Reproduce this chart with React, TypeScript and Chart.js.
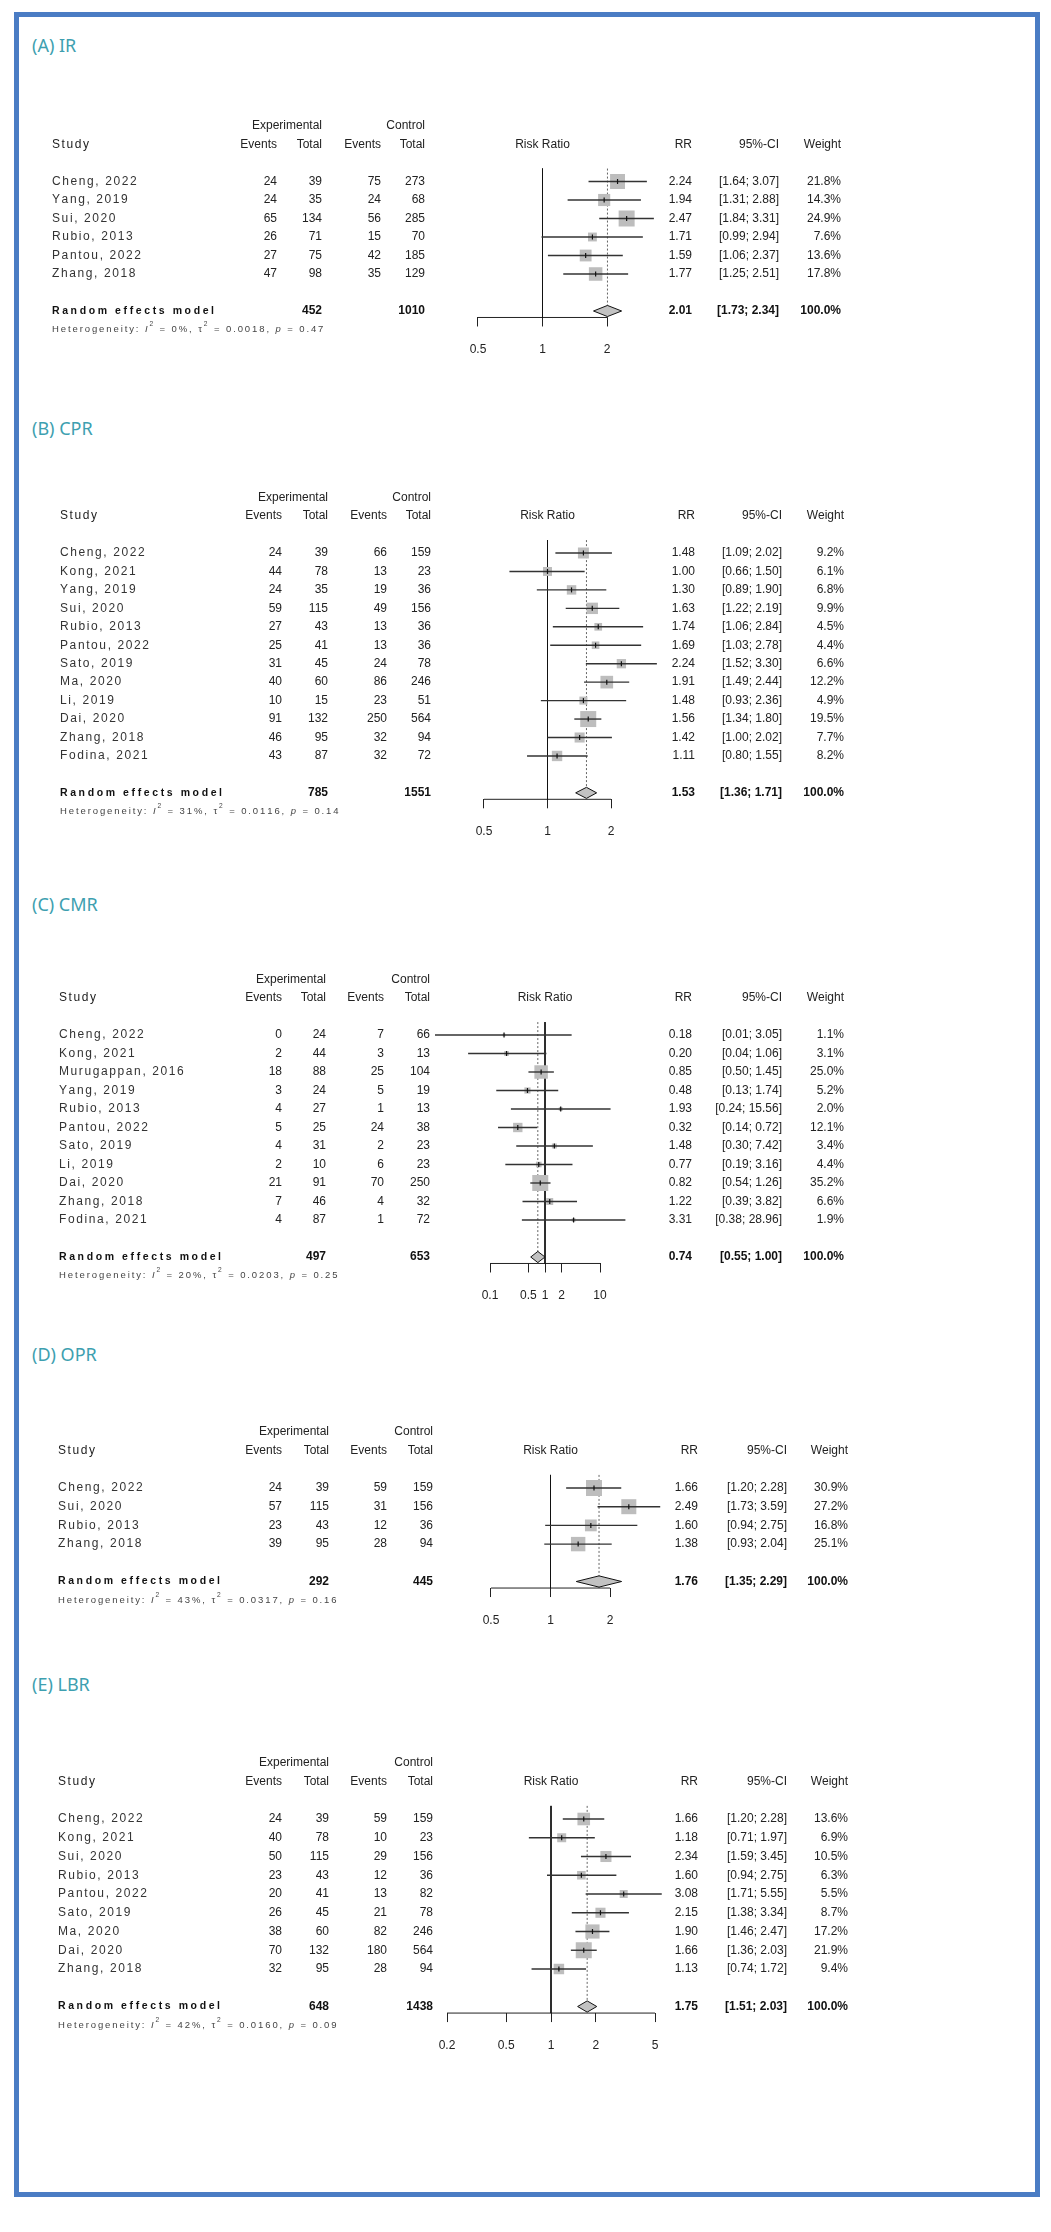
import React, { useEffect, useRef } from "react";
import { Chart, registerables } from "chart.js";

Chart.register(...registerables);

// ---------------- (A) IR ----------------
const irStudies = ["Cheng, 2022", "Yang, 2019", "Sui, 2020", "Rubio, 2013", "Pantou, 2022", "Zhang, 2018"];
const irExpEvents = [24, 24, 65, 26, 27, 47];
const irExpTotal = [39, 35, 134, 71, 75, 98];
const irCtrlEvents = [75, 24, 56, 15, 42, 35];
const irCtrlTotal = [273, 68, 285, 70, 185, 129];
const irRR = [2.24, 1.94, 2.47, 1.71, 1.59, 1.77];
const irLower = [1.64, 1.31, 1.84, 0.99, 1.06, 1.25];
const irUpper = [3.07, 2.88, 3.31, 2.94, 2.37, 2.51];
const irWeight = [21.8, 14.3, 24.9, 7.6, 13.6, 17.8];
const irPooled = [2.01, 1.73, 2.34];
const irTotals = [452, 1010];
const irHeterogeneity = ["0%", "0.0018", "0.47"];
const irTicks = [0.5, 1, 2];
const irTickLabels = ["0.5", "1", "2"];

// ---------------- (B) CPR ----------------
const cprStudies = ["Cheng, 2022", "Kong, 2021", "Yang, 2019", "Sui, 2020", "Rubio, 2013", "Pantou, 2022", "Sato, 2019", "Ma, 2020", "Li, 2019", "Dai, 2020", "Zhang, 2018", "Fodina, 2021"];
const cprExpEvents = [24, 44, 24, 59, 27, 25, 31, 40, 10, 91, 46, 43];
const cprExpTotal = [39, 78, 35, 115, 43, 41, 45, 60, 15, 132, 95, 87];
const cprCtrlEvents = [66, 13, 19, 49, 13, 13, 24, 86, 23, 250, 32, 32];
const cprCtrlTotal = [159, 23, 36, 156, 36, 36, 78, 246, 51, 564, 94, 72];
const cprRR = [1.48, 1.0, 1.3, 1.63, 1.74, 1.69, 2.24, 1.91, 1.48, 1.56, 1.42, 1.11];
const cprLower = [1.09, 0.66, 0.89, 1.22, 1.06, 1.03, 1.52, 1.49, 0.93, 1.34, 1.0, 0.8];
const cprUpper = [2.02, 1.5, 1.9, 2.19, 2.84, 2.78, 3.3, 2.44, 2.36, 1.8, 2.02, 1.55];
const cprWeight = [9.2, 6.1, 6.8, 9.9, 4.5, 4.4, 6.6, 12.2, 4.9, 19.5, 7.7, 8.2];
const cprPooled = [1.53, 1.36, 1.71];
const cprTotals = [785, 1551];
const cprHeterogeneity = ["31%", "0.0116", "0.14"];
const cprTicks = [0.5, 1, 2];
const cprTickLabels = ["0.5", "1", "2"];

// ---------------- (C) CMR ----------------
const cmrStudies = ["Cheng, 2022", "Kong, 2021", "Murugappan, 2016", "Yang, 2019", "Rubio, 2013", "Pantou, 2022", "Sato, 2019", "Li, 2019", "Dai, 2020", "Zhang, 2018", "Fodina, 2021"];
const cmrExpEvents = [0, 2, 18, 3, 4, 5, 4, 2, 21, 7, 4];
const cmrExpTotal = [24, 44, 88, 24, 27, 25, 31, 10, 91, 46, 87];
const cmrCtrlEvents = [7, 3, 25, 5, 1, 24, 2, 6, 70, 4, 1];
const cmrCtrlTotal = [66, 13, 104, 19, 13, 38, 23, 23, 250, 32, 72];
const cmrRR = [0.18, 0.2, 0.85, 0.48, 1.93, 0.32, 1.48, 0.77, 0.82, 1.22, 3.31];
const cmrLower = [0.01, 0.04, 0.5, 0.13, 0.24, 0.14, 0.3, 0.19, 0.54, 0.39, 0.38];
const cmrUpper = [3.05, 1.06, 1.45, 1.74, 15.56, 0.72, 7.42, 3.16, 1.26, 3.82, 28.96];
const cmrWeight = [1.1, 3.1, 25.0, 5.2, 2.0, 12.1, 3.4, 4.4, 35.2, 6.6, 1.9];
const cmrPooled = [0.74, 0.55, 1.0];
const cmrTotals = [497, 653];
const cmrHeterogeneity = ["20%", "0.0203", "0.25"];
const cmrTicks = [0.1, 0.5, 1, 2, 10];
const cmrTickLabels = ["0.1", "0.5", "1", "2", "10"];

// ---------------- (D) OPR ----------------
const oprStudies = ["Cheng, 2022", "Sui, 2020", "Rubio, 2013", "Zhang, 2018"];
const oprExpEvents = [24, 57, 23, 39];
const oprExpTotal = [39, 115, 43, 95];
const oprCtrlEvents = [59, 31, 12, 28];
const oprCtrlTotal = [159, 156, 36, 94];
const oprRR = [1.66, 2.49, 1.6, 1.38];
const oprLower = [1.2, 1.73, 0.94, 0.93];
const oprUpper = [2.28, 3.59, 2.75, 2.04];
const oprWeight = [30.9, 27.2, 16.8, 25.1];
const oprPooled = [1.76, 1.35, 2.29];
const oprTotals = [292, 445];
const oprHeterogeneity = ["43%", "0.0317", "0.16"];
const oprTicks = [0.5, 1, 2];
const oprTickLabels = ["0.5", "1", "2"];

// ---------------- (E) LBR ----------------
const lbrStudies = ["Cheng, 2022", "Kong, 2021", "Sui, 2020", "Rubio, 2013", "Pantou, 2022", "Sato, 2019", "Ma, 2020", "Dai, 2020", "Zhang, 2018"];
const lbrExpEvents = [24, 40, 50, 23, 20, 26, 38, 70, 32];
const lbrExpTotal = [39, 78, 115, 43, 41, 45, 60, 132, 95];
const lbrCtrlEvents = [59, 10, 29, 12, 13, 21, 82, 180, 28];
const lbrCtrlTotal = [159, 23, 156, 36, 82, 78, 246, 564, 94];
const lbrRR = [1.66, 1.18, 2.34, 1.6, 3.08, 2.15, 1.9, 1.66, 1.13];
const lbrLower = [1.2, 0.71, 1.59, 0.94, 1.71, 1.38, 1.46, 1.36, 0.74];
const lbrUpper = [2.28, 1.97, 3.45, 2.75, 5.55, 3.34, 2.47, 2.03, 1.72];
const lbrWeight = [13.6, 6.9, 10.5, 6.3, 5.5, 8.7, 17.2, 21.9, 9.4];
const lbrPooled = [1.75, 1.51, 2.03];
const lbrTotals = [648, 1438];
const lbrHeterogeneity = ["42%", "0.0160", "0.09"];
const lbrTicks = [0.2, 0.5, 1, 2, 5];
const lbrTickLabels = ["0.2", "0.5", "1", "2", "5"];

type PanelSpec = {
  title: string;
  studies: string[];
  expEvents: number[];
  expTotal: number[];
  ctrlEvents: number[];
  ctrlTotal: number[];
  rr: number[];
  lower: number[];
  upper: number[];
  weight: number[];
  pooled: number[];
  totals: number[];
  het: string[];
  ticks: number[];
  tickLabels: string[];
};

type Layout = {
  titleTop: number;
  row0: number;
  rowH: number;
  xMin: number;
  xMax: number;
  study: number;
  expEv: number;
  expTot: number;
  ctlEv: number;
  ctlTot: number;
  rr: number;
  ci: number;
  wt: number;
};

const panels: PanelSpec[] = [
  { title: "(A) IR", studies: irStudies, expEvents: irExpEvents, expTotal: irExpTotal, ctrlEvents: irCtrlEvents, ctrlTotal: irCtrlTotal, rr: irRR, lower: irLower, upper: irUpper, weight: irWeight, pooled: irPooled, totals: irTotals, het: irHeterogeneity, ticks: irTicks, tickLabels: irTickLabels },
  { title: "(B) CPR", studies: cprStudies, expEvents: cprExpEvents, expTotal: cprExpTotal, ctrlEvents: cprCtrlEvents, ctrlTotal: cprCtrlTotal, rr: cprRR, lower: cprLower, upper: cprUpper, weight: cprWeight, pooled: cprPooled, totals: cprTotals, het: cprHeterogeneity, ticks: cprTicks, tickLabels: cprTickLabels },
  { title: "(C) CMR", studies: cmrStudies, expEvents: cmrExpEvents, expTotal: cmrExpTotal, ctrlEvents: cmrCtrlEvents, ctrlTotal: cmrCtrlTotal, rr: cmrRR, lower: cmrLower, upper: cmrUpper, weight: cmrWeight, pooled: cmrPooled, totals: cmrTotals, het: cmrHeterogeneity, ticks: cmrTicks, tickLabels: cmrTickLabels },
  { title: "(D) OPR", studies: oprStudies, expEvents: oprExpEvents, expTotal: oprExpTotal, ctrlEvents: oprCtrlEvents, ctrlTotal: oprCtrlTotal, rr: oprRR, lower: oprLower, upper: oprUpper, weight: oprWeight, pooled: oprPooled, totals: oprTotals, het: oprHeterogeneity, ticks: oprTicks, tickLabels: oprTickLabels },
  { title: "(E) LBR", studies: lbrStudies, expEvents: lbrExpEvents, expTotal: lbrExpTotal, ctrlEvents: lbrCtrlEvents, ctrlTotal: lbrCtrlTotal, rr: lbrRR, lower: lbrLower, upper: lbrUpper, weight: lbrWeight, pooled: lbrPooled, totals: lbrTotals, het: lbrHeterogeneity, ticks: lbrTicks, tickLabels: lbrTickLabels },
];

const layouts: Layout[] = [
  { titleTop: 36, row0: 181.5, rowH: 18.5, xMin: 478, xMax: 607, study: 52, expEv: 277, expTot: 322, ctlEv: 381, ctlTot: 425, rr: 692, ci: 779, wt: 841 },
  { titleTop: 419, row0: 553, rowH: 18.45, xMin: 484, xMax: 611, study: 60, expEv: 282, expTot: 328, ctlEv: 387, ctlTot: 431, rr: 695, ci: 782, wt: 844 },
  { titleTop: 895, row0: 1035, rowH: 18.5, xMin: 490, xMax: 600, study: 59, expEv: 282, expTot: 326, ctlEv: 384, ctlTot: 430, rr: 692, ci: 782, wt: 844 },
  { titleTop: 1345, row0: 1488, rowH: 18.7, xMin: 491, xMax: 610, study: 58, expEv: 282, expTot: 329, ctlEv: 387, ctlTot: 433, rr: 698, ci: 787, wt: 848 },
  { titleTop: 1675, row0: 1819, rowH: 18.75, xMin: 447, xMax: 655, study: 58, expEv: 282, expTot: 329, ctlEv: 387, ctlTot: 433, rr: 698, ci: 787, wt: 848 },
];

const W = 1051;
const FAM = '"Liberation Sans", Arial, Helvetica, sans-serif';
const AXIS_H = 45;
const MAX_SQUARE = 16;
const DOMAIN_EXT = 20; // plotting domain extends beyond the drawn axis so long CIs stay visible

function drawText(
  ctx: CanvasRenderingContext2D,
  text: string,
  x: number,
  y: number,
  align: "left" | "right" | "center",
  font: string,
  spacing: number,
  color: string
): number {
  ctx.font = font;
  ctx.fillStyle = color;
  ctx.textBaseline = "middle";
  if (!spacing) {
    ctx.textAlign = align;
    ctx.fillText(text, x, y);
    return ctx.measureText(text).width;
  }
  ctx.textAlign = "left";
  const chars = Array.from(text);
  const widths = chars.map((c) => ctx.measureText(c).width);
  const total = widths.reduce((a, b) => a + b, 0) + spacing * (chars.length - 1);
  let cx = align === "right" ? x - total : align === "center" ? x - total / 2 : x;
  chars.forEach((c, i) => {
    ctx.fillText(c, cx, y);
    cx += widths[i] + spacing;
  });
  return total;
}

function ForestPanel({ spec, lay }: { spec: PanelSpec; lay: Layout }) {
  const ref = useRef<HTMLCanvasElement>(null);
  const n = spec.studies.length;
  const yTopVal = -0.7;
  const yBotVal = n + 1.35;
  const canvasTop = Math.floor(lay.row0 - 4.4 * lay.rowH);
  const padTop = lay.row0 + yTopVal * lay.rowH - canvasTop;
  const chartH = (yBotVal - yTopVal) * lay.rowH;
  const canvasH = Math.ceil(padTop + chartH + AXIS_H + 2);
  const padBottom = canvasH - padTop - chartH - AXIS_H;

  const tMin = spec.ticks[0];
  const tMax = spec.ticks[spec.ticks.length - 1];
  const pxPerDecade = (lay.xMax - lay.xMin) / Math.log10(tMax / tMin);
  const extPx = pxPerDecade * Math.log10(DOMAIN_EXT);
  const padLeft = lay.xMin - extPx;
  const padRight = W - (lay.xMax + extPx);

  useEffect(() => {
    const canvas = ref.current;
    if (!canvas) return;
    const wMax = Math.max(...spec.weight);
    const [est, pLo, pHi] = spec.pooled;
    const datasets: any[] = [];

    // reference line at RR = 1
    datasets.push({
      data: [{ x: 1, y: yTopVal }, { x: 1, y: yBotVal }],
      showLine: true, borderColor: "#111", borderWidth: 1, pointRadius: 0, order: 7, clip: false,
    });
    // axis line between first and last tick
    datasets.push({
      data: [{ x: tMin, y: yBotVal }, { x: tMax, y: yBotVal }],
      showLine: true, borderColor: "#222", borderWidth: 1, pointRadius: 0, order: 7, clip: false,
    });
    // dotted line at pooled estimate
    datasets.push({
      data: [{ x: est, y: yTopVal }, { x: est, y: yBotVal }],
      showLine: true, borderColor: "#666", borderWidth: 1, borderDash: [2, 2], pointRadius: 0, order: 5, clip: false,
    });
    // weight squares
    datasets.push({
      data: spec.rr.map((v, i) => ({ x: v, y: i })),
      showLine: false,
      pointStyle: "rect",
      pointRadius: spec.weight.map((w) => (MAX_SQUARE * Math.sqrt(w / wMax)) / (2 * Math.SQRT1_2)),
      pointBackgroundColor: "#bdbdbd",
      pointBorderWidth: 0,
      order: 4,
      clip: false,
    });
    // confidence intervals
    spec.lower.forEach((lo, i) => {
      datasets.push({
        data: [{ x: lo, y: i }, { x: spec.upper[i], y: i }],
        showLine: true, borderColor: "#333", borderWidth: 1.4, pointRadius: 0, order: 3, clip: false,
      });
    });
    // point estimate ticks
    datasets.push({
      data: spec.rr.map((v, i) => ({ x: v, y: i })),
      showLine: false,
      pointStyle: "line",
      pointRotation: 90,
      pointRadius: 2.5,
      pointBorderColor: "#111",
      pointBorderWidth: 1.2,
      order: 2,
      clip: false,
    });
    // summary diamond
    const sy = n + 1;
    const dh = 0.3;
    datasets.push({
      data: [
        { x: pLo, y: sy },
        { x: est, y: sy - dh },
        { x: pHi, y: sy },
        { x: est, y: sy + dh },
        { x: pLo, y: sy },
      ],
      showLine: true, fill: "shape", backgroundColor: "#c2c2c2", borderColor: "#111", borderWidth: 1,
      pointRadius: 0, tension: 0, order: 1, clip: false,
    });

    const tablePlugin = {
      id: "forestTable",
      afterDraw(chart: any) {
        const ctx: CanvasRenderingContext2D = chart.ctx;
        const ys = chart.scales.y;
        const xs = chart.scales.x;
        const Y = (v: number) => ys.getPixelForValue(v);
        const reg = `12px ${FAM}`;
        const bold = `bold 12px ${FAM}`;
        const dark = "#222";
        ctx.save();
        // headers
        drawText(ctx, "Experimental", lay.expTot, Y(-3), "right", reg, 0, dark);
        drawText(ctx, "Control", lay.ctlTot, Y(-3), "right", reg, 0, dark);
        drawText(ctx, "Study", lay.study, Y(-2), "left", reg, 1.6, dark);
        drawText(ctx, "Events", lay.expEv, Y(-2), "right", reg, 0, dark);
        drawText(ctx, "Total", lay.expTot, Y(-2), "right", reg, 0, dark);
        drawText(ctx, "Events", lay.ctlEv, Y(-2), "right", reg, 0, dark);
        drawText(ctx, "Total", lay.ctlTot, Y(-2), "right", reg, 0, dark);
        drawText(ctx, "Risk Ratio", xs.getPixelForValue(1), Y(-2), "center", reg, 0, dark);
        drawText(ctx, "RR", lay.rr, Y(-2), "right", reg, 0, dark);
        drawText(ctx, "95%-CI", lay.ci, Y(-2), "right", reg, 0, dark);
        drawText(ctx, "Weight", lay.wt, Y(-2), "right", reg, 0, dark);
        // study rows
        spec.studies.forEach((s, i) => {
          const y = Y(i);
          drawText(ctx, s, lay.study, y, "left", reg, 1.6, "#333");
          drawText(ctx, String(spec.expEvents[i]), lay.expEv, y, "right", reg, 0, dark);
          drawText(ctx, String(spec.expTotal[i]), lay.expTot, y, "right", reg, 0, dark);
          drawText(ctx, String(spec.ctrlEvents[i]), lay.ctlEv, y, "right", reg, 0, dark);
          drawText(ctx, String(spec.ctrlTotal[i]), lay.ctlTot, y, "right", reg, 0, dark);
          drawText(ctx, spec.rr[i].toFixed(2), lay.rr, y, "right", reg, 0, dark);
          drawText(ctx, `[${spec.lower[i].toFixed(2)}; ${spec.upper[i].toFixed(2)}]`, lay.ci, y, "right", reg, 0, dark);
          drawText(ctx, `${spec.weight[i].toFixed(1)}%`, lay.wt, y, "right", reg, 0, dark);
        });
        // summary row
        const ySum = Y(n + 1);
        drawText(ctx, "Random effects model", lay.study, ySum, "left", `bold 10.5px ${FAM}`, 2.6, "#111");
        drawText(ctx, String(spec.totals[0]), lay.expTot, ySum, "right", bold, 0, "#111");
        drawText(ctx, String(spec.totals[1]), lay.ctlTot, ySum, "right", bold, 0, "#111");
        drawText(ctx, est.toFixed(2), lay.rr, ySum, "right", bold, 0, "#111");
        drawText(ctx, `[${pLo.toFixed(2)}; ${pHi.toFixed(2)}]`, lay.ci, ySum, "right", bold, 0, "#111");
        drawText(ctx, "100.0%", lay.wt, ySum, "right", bold, 0, "#111");
        // heterogeneity
        const yHet = Y(n + 2);
        const hs = 9.5;
        const sp = 1.9;
        const hc = "#444";
        const segs: { t: string; f: string; sup?: boolean }[] = [
          { t: "Heterogeneity: ", f: `${hs}px ${FAM}` },
          { t: "I", f: `italic ${hs}px ${FAM}` },
          { t: "2", f: `${hs * 0.7}px ${FAM}`, sup: true },
          { t: ` = ${spec.het[0]}, `, f: `${hs}px ${FAM}` },
          { t: "\u03c4", f: `${hs}px ${FAM}` },
          { t: "2", f: `${hs * 0.7}px ${FAM}`, sup: true },
          { t: ` = ${spec.het[1]}, `, f: `${hs}px ${FAM}` },
          { t: "p", f: `italic ${hs}px ${FAM}` },
          { t: ` = ${spec.het[2]}`, f: `${hs}px ${FAM}` },
        ];
        let hx = lay.study;
        segs.forEach((s) => {
          const w = drawText(ctx, s.t, hx, s.sup ? yHet - 5 : yHet, "left", s.f, sp, hc);
          hx += w + sp;
        });
        ctx.restore();
      },
    };

    const chart = new Chart(canvas, {
      type: "scatter",
      data: { datasets },
      options: {
        responsive: false,
        maintainAspectRatio: false,
        animation: false,
        events: [],
        layout: { padding: { left: padLeft, right: padRight, top: padTop, bottom: padBottom } },
        plugins: { legend: { display: false }, tooltip: { enabled: false }, title: { display: false } },
        scales: {
          x: {
            type: "logarithmic",
            position: "bottom",
            min: tMin / DOMAIN_EXT,
            max: tMax * DOMAIN_EXT,
            afterBuildTicks: (scale: any) => {
              scale.ticks = spec.ticks.map((v) => ({ value: v }));
            },
            afterFit: (scale: any) => {
              scale.height = AXIS_H;
            },
            ticks: {
              autoSkip: false,
              maxRotation: 0,
              padding: 16,
              color: "#222",
              font: { size: 12, family: FAM },
              callback: (_v: any, i: number) => spec.tickLabels[i],
            },
            grid: { drawOnChartArea: false, drawTicks: true, tickLength: 9, color: "#222", lineWidth: 1 },
            border: { display: false },
          },
          y: { type: "linear", display: false, reverse: true, min: yTopVal, max: yBotVal },
        },
      } as any,
      plugins: [tablePlugin],
    });
    return () => chart.destroy();
  }, []);

  return (
    <canvas
      ref={ref}
      width={W}
      height={canvasH}
      style={{ position: "absolute", left: 0, top: canvasTop, width: W, height: canvasH }}
    />
  );
}

export default function App() {
  return (
    <div style={{ position: "absolute", left: 0, top: 0, width: W, height: 2232, background: "#fff", overflow: "hidden" }}>
      <div
        style={{
          position: "absolute", left: 14, top: 12, width: 1026, height: 2185,
          border: "5px solid #4a7cc4", boxSizing: "border-box",
        }}
      />
      {panels.map((p, i) => (
        <div
          key={"t" + i}
          style={{
            position: "absolute", left: 32, top: layouts[i].titleTop, fontFamily: '"Noto Sans", "Open Sans", sans-serif',
            fontSize: 18, lineHeight: "18px", color: "#3e9fb0", whiteSpace: "nowrap",
          }}
        >
          {p.title}
        </div>
      ))}
      {panels.map((p, i) => (
        <ForestPanel key={"p" + i} spec={p} lay={layouts[i]} />
      ))}
    </div>
  );
}
